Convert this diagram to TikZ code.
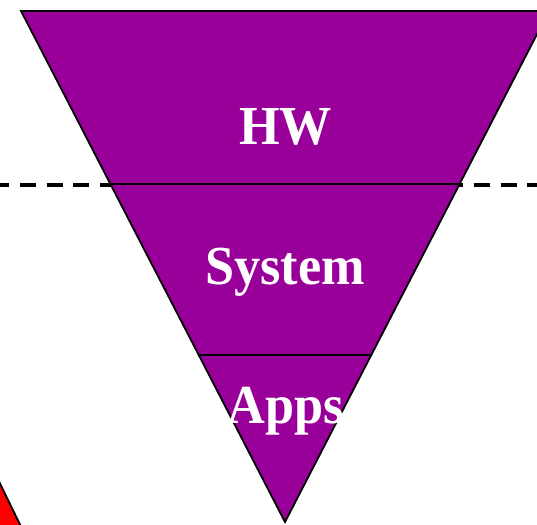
\documentclass[tikz,border=0pt]{standalone}
\usepackage{fontspec}
\setmainfont{Liberation Serif}
\usetikzlibrary{calc}
\definecolor{tripurple}{HTML}{990099}
\begin{document}
\begin{tikzpicture}[x=1pt,y=-1pt,
  layer/.style={line width=1.8pt,draw=black},
  divider/.style={line width=1.6pt,draw=black},
  label/.style={text=white,font=\fontsize{55}{55}\selectfont\bfseries,xscale=0.95,inner sep=0pt,anchor=base}]
\useasboundingbox (0,0) rectangle (537,524);
\clip (0,0) rectangle (537,524);
% red shape bottom-left
\coordinate (rA) at (-10,463);
\coordinate (rB) at (30,545);
\fill[red] (rA) -- (rB) -- (-10,545) -- cycle;
\draw[line width=1.8pt] (rA) -- (rB);
% dashed line
\coordinate (dL) at (0,185);
\coordinate (dR) at (537,185);
\draw[line width=3.5pt,dash pattern=on 16pt off 10.7pt,dash phase=6.7pt] (dL) -- (dR);
% inverted triangle
\coordinate (tl) at (21,11);
\coordinate (tr) at (549,11);
\coordinate (ap) at (285,522);
\filldraw[layer,fill=tripurple] (tl) -- (tr) -- (ap) -- cycle;
\coordinate (d1l) at ($(tl)!0.3385!(ap)$);
\coordinate (d1r) at ($(tr)!0.3385!(ap)$);
\coordinate (d2l) at ($(tl)!0.6732!(ap)$);
\coordinate (d2r) at ($(tr)!0.6732!(ap)$);
\draw[divider] (d1l) -- (d1r);
\draw[divider] (d2l) -- (d2r);
\node[label] (hw) at (285.5,144) {HW};
\node[label] (sys) at (285,284) {System};
\node[label] (apps) at (286,423) {Apps};
\end{tikzpicture}
\end{document}
